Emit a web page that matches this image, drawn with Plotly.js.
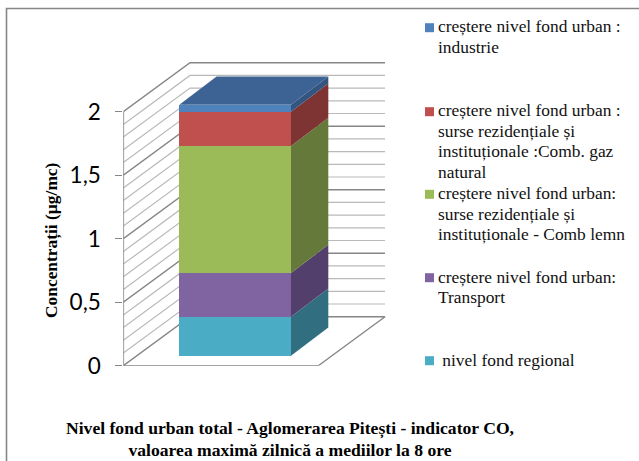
<!DOCTYPE html>
<html><head><meta charset="utf-8">
<script src="https://cdn.plot.ly/plotly-3.0.1.min.js"></script>
<style>html,body{margin:0;padding:0;background:#fff}#c{width:639px;height:461px}</style>
</head><body><div id="c"></div>
<script>
// ---- data (bottom to top of the stack) ----
const seriesNames = ['nivel fond regional','creștere nivel fond urban: Transport','creștere nivel fond urban: surse rezidențiale și instituționale - Comb lemn','creștere nivel fond urban : surse rezidențiale și instituționale :Comb. gaz natural','creștere nivel fond urban : industrie'];
const seriesValues = [0.307, 0.344, 1.0, 0.27, 0.055];
const frontColors = ['#4BACC6','#8064A2','#9BBB59','#C0504D','#4F81BD'];
const sideColors  = ['#316F80','#533F6C','#65793A','#7D3432','#335580'];
const topColor = '#3C6394';
const tickVals = [0,0.5,1,1.5,2];
const tickText = ['0','0,5','1','1,5','2'];
const legendLines = [
 [' nivel fond regional'],
 ['creștere nivel fond urban:','Transport'],
 ['creștere nivel fond urban:','surse rezidențiale și','instituționale - Comb lemn'],
 ['creștere nivel fond urban :','surse rezidențiale și','instituționale :Comb. gaz','natural'],
 ['creștere nivel fond urban :','industrie']];
const legendMarkerY = [360.7,277.7,194.3,111.7,27.7];
const titleText = 'Nivel fond urban total - Aglomerarea Pitești - indicator CO,<br>valoarea maximă zilnică a mediilor la 8 ore';
const yTitle = 'Concentrații (µg/mc)';

// ---- page geometry ----
const W=639,H=461;
const X0=123.3,X1=390,Y0=365.7,YT=50;
const pxU=111.7, pxV=127;              // pixels per x unit, per value
const xr=[(X0-235.15)/pxU,(X1-235.15)/pxU];
const yTop=(Y0-YT)/pxV;
const wallDX=66.7/pxU, wallDY=49/pxV;  // full depth of the floor
const barDX=37.3/pxU, barDY=28.3/pxV;  // depth of the bar
const lift=10/pxV;                     // bar stands this far back on the floor
const floorRight=(318.3-235.15)/pxU;
const wallRight=(385-235.15)/pxU;

const gray='#868686', light='#b9b9b9';
const traces=[];
function ln(x,y,c,w){traces.push({type:'scatter',mode:'lines',x,y,xaxis:'x',yaxis:'y',cliponaxis:false,
  line:{color:c,width:w},hoverinfo:'skip',showlegend:false});}
// walls: one gridline each 0.1
for(let i=20;i>=1;i--){
  const v=i/10, major=(i%5===0);
  ln([xr[0],xr[0]+wallDX,wallRight],[v,v+wallDY,v+wallDY],major?gray:light,major?1.4:1.2);
}
// floor
ln([xr[0],floorRight,floorRight+wallDX,xr[0]+wallDX,xr[0],xr[0]],[0,0,wallDY,wallDY,0,0],gray,1.4);
ln([xr[0],xr[0]],[0,2],gray,1.6);

// bars and their 3D faces
let c=0;
seriesValues.forEach((v,i)=>{
  traces.push({type:'bar',x:[0],y:[v],width:1,name:seriesNames[i],xaxis:'x2',yaxis:'y2',
    marker:{color:frontColors[i],line:{width:0}},showlegend:false});
  const a=c,b=c+v;
  traces.push({type:'scatter',mode:'lines',fill:'toself',fillcolor:sideColors[i],line:{width:0},xaxis:'x2',yaxis:'y2',
    x:[.5,.5+barDX,.5+barDX,.5,.5],y:[a,a+barDY,b+barDY,b,a],hoverinfo:'skip',showlegend:false});
  c=b;
});
traces.push({type:'scatter',mode:'lines',fill:'toself',fillcolor:topColor,line:{width:0},xaxis:'x2',yaxis:'y2',
  x:[-.5,.5,.5+barDX,-.5+barDX,-.5],y:[c,c,c+barDY,c+barDY,c],hoverinfo:'skip',showlegend:false});

const px=x=>x/W, py=y=>1-y/H;
const dom={x:[px(X0),px(X1)],y:[py(Y0),py(YT)]};
const shapes=[{type:'path',xref:'paper',yref:'paper',
  path:`M ${px(6.5)} ${py(470)} L ${px(6.5)} ${py(8.5)} L ${px(650)} ${py(8.5)}`,line:{color:gray,width:1.6}}];
const anns=[];
legendMarkerY.forEach((y,i)=>{
  shapes.push({type:'rect',xref:'paper',yref:'paper',x0:px(425),x1:px(434),y0:py(y-4.5),y1:py(y+4.5),
    fillcolor:frontColors[i],line:{width:0}});
  legendLines[i].forEach((t,k)=>{
    anns.push({xref:'paper',yref:'paper',x:px(436),y:py(y-1.2+k*20.5),xanchor:'left',yanchor:'middle',align:'left',
      showarrow:false,text:t,font:{family:'Liberation Serif',size:17.4,color:'#111'}});
  });
});
anns.push({xref:'paper',yref:'paper',x:px(52),y:py(240),xanchor:'center',yanchor:'middle',textangle:-90,showarrow:false,
  text:yTitle,font:{family:'Liberation Serif',size:17.4,color:'#000',weight:700}});

const layout={width:W,height:H,margin:{l:0,r:0,t:0,b:0},paper_bgcolor:'#fff',plot_bgcolor:'rgba(0,0,0,0)',
  showlegend:false,barmode:'stack',bargap:0,
  title:{text:titleText,font:{family:'Liberation Serif',size:17.6,color:'#000',weight:700},
    x:290/W,xanchor:'center',y:py(433.5),yanchor:'bottom'},
  xaxis:{domain:dom.x,range:xr,visible:false,fixedrange:true},
  yaxis:{domain:dom.y,range:[0,yTop],tickmode:'array',tickvals:tickVals,ticktext:tickText,
    ticks:'outside',ticklen:7,tickcolor:gray,tickwidth:1.2,showgrid:false,zeroline:false,showline:false,
    tickfont:{family:'Lato',size:22.5,color:'#000'},ticklabelstandoff:10,fixedrange:true},
  xaxis2:{domain:dom.x,range:xr,overlaying:'x',visible:false,anchor:'y2',fixedrange:true},
  yaxis2:{domain:dom.y,range:[-lift,yTop-lift],overlaying:'y',visible:false,anchor:'x2',fixedrange:true},
  shapes,annotations:anns};
Plotly.newPlot('c',traces,layout,{displayModeBar:false,staticPlot:true});
</script></body></html>
